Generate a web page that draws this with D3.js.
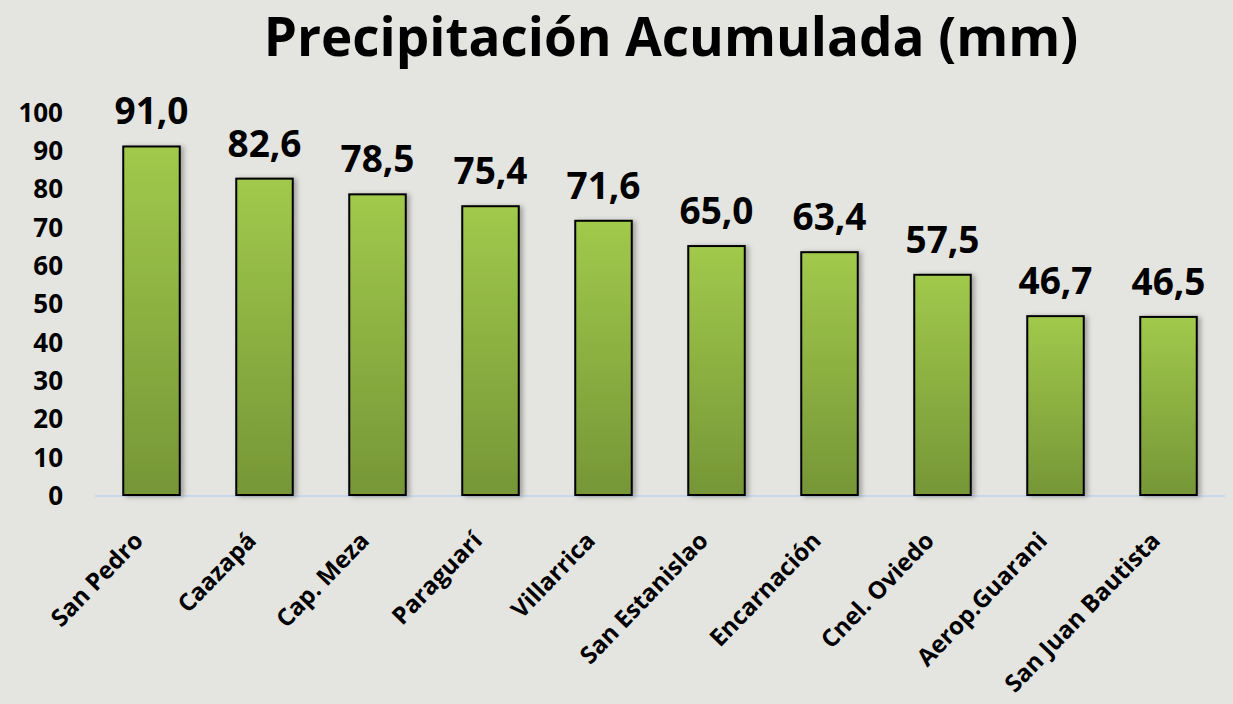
<!DOCTYPE html>
<html lang="es">
<head>
    <meta charset="UTF-8">
    <title>Precipitación Acumulada (mm)</title>
    <script src="https://d3js.org/d3.v7.min.js"></script>
    <style>
        body { margin: 0; background: #e4e5e0; }
        svg { display: block; }
        svg text { font-family: "Open Sans", Lato, sans-serif; font-weight: bold; fill: #000; }
        .axis-y text { font-size: 26px; }
        .axis-x text { font-size: 24px; }
        .bar { stroke: #000; stroke-width: 2px; }
        .value { font-size: 37px; text-anchor: middle; }
        .title { font-size: 53px; text-anchor: middle; }
    </style>
</head>
<body>
    <svg width="1233" height="704"></svg>

    <script>
        // Data
        const stations = ["San Pedro", "Caazapá", "Cap. Meza", "Paraguarí", "Villarrica",
            "San Estanislao", "Encarnación", "Cnel. Oviedo", "Aerop.Guarani", "San Juan Bautista"];
        const rainfall = [91.0, 82.6, 78.5, 75.4, 71.6, 65.0, 63.4, 57.5, 46.7, 46.5];
        const yTicks = [0, 10, 20, 30, 40, 50, 60, 70, 80, 90, 100];

        const svg = d3.select("svg"),
            margin = { top: 112, right: 8, bottom: 209, left: 95 },
            width = +svg.attr("width") - margin.left - margin.right,
            height = +svg.attr("height") - margin.top - margin.bottom,
            g = svg.append("g").attr("transform", "translate(" + margin.left + "," + margin.top + ")");

        const x = d3.scaleBand().domain(stations).range([0, width]).paddingInner(0.5).paddingOuter(0.25);
        const y = d3.scaleLinear().domain([0, 100]).range([height, 0]);

        // Gradient + shadow
        const defs = svg.append("defs");
        const grad = defs.append("linearGradient")
            .attr("id", "barGrad").attr("x1", 0).attr("y1", 0).attr("x2", 0).attr("y2", 1);
        grad.append("stop").attr("offset", "0%").attr("stop-color", "#a1c94b");
        grad.append("stop").attr("offset", "100%").attr("stop-color", "#769637");

        const shadow = defs.append("filter").attr("id", "shadow")
            .attr("x", "-20%").attr("y", "-5%").attr("width", "150%").attr("height", "110%");
        shadow.append("feDropShadow").attr("dx", 3).attr("dy", 1).attr("stdDeviation", 2.5)
            .attr("flood-color", "#000").attr("flood-opacity", 0.3);

        // Title
        svg.append("text")
            .attr("class", "title")
            .attr("x", 671)
            .attr("y", 56)
            .text("Precipitación Acumulada (mm)");

        // Y axis
        g.append("g")
            .attr("class", "axis axis-y")
            .attr("transform", "translate(-32,0)")
            .call(d3.axisLeft(y).tickValues(yTicks).tickSize(0).tickPadding(0))
            .call(a => a.select(".domain").remove())
            .selectAll("text").attr("dy", "0.36em");

        // Baseline
        g.append("line")
            .attr("x1", 0).attr("x2", width)
            .attr("y1", y(0) + 1).attr("y2", y(0) + 1)
            .attr("stroke", "#c8d8ec").attr("stroke-width", 2);

        // Bars
        g.selectAll(".bar")
            .data(rainfall)
            .enter().append("rect")
            .attr("class", "bar")
            .attr("x", (d, i) => x(stations[i]))
            .attr("y", d => y(d))
            .attr("width", x.bandwidth())
            .attr("height", d => y(0) - y(d))
            .attr("fill", "url(#barGrad)")
            .attr("filter", "url(#shadow)");

        // Value labels
        g.selectAll(".value")
            .data(rainfall)
            .enter().append("text")
            .attr("class", "value")
            .attr("x", (d, i) => x(stations[i]) + x.bandwidth() / 2)
            .attr("y", d => y(d) - 22)
            .text(d => d.toFixed(1).replace(".", ","));

        // X axis labels
        g.append("g")
            .attr("class", "axis axis-x")
            .attr("transform", "translate(0," + height + ")")
            .call(d3.axisBottom(x).tickSize(0).tickPadding(0))
            .call(a => a.select(".domain").remove())
            .selectAll("text")
            .attr("dy", 0)
            .attr("transform", "translate(-7,47) rotate(-46)")
            .style("text-anchor", "end");
    </script>
</body>
</html>
